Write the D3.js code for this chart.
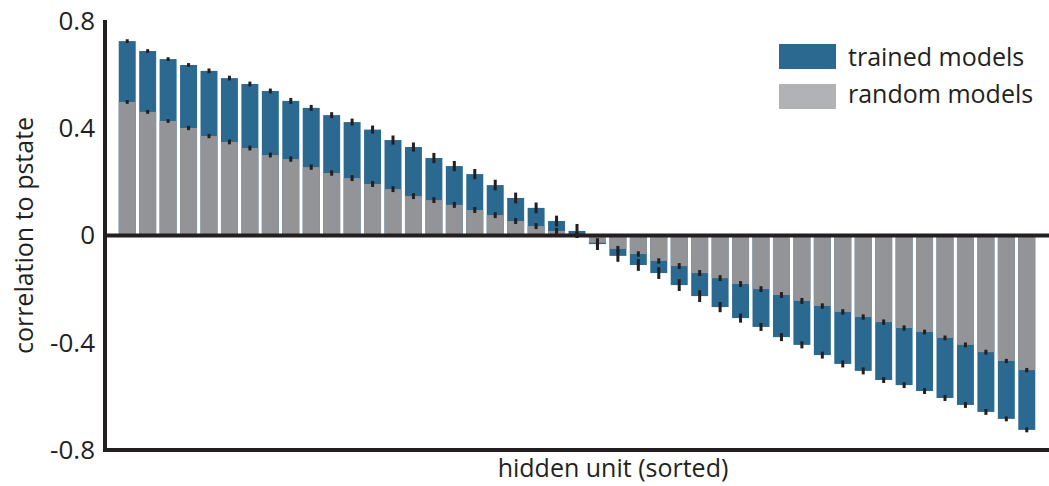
<!DOCTYPE html>
<html>
<head>
<meta charset="utf-8">
<script src="https://cdn.jsdelivr.net/npm/d3@7"></script>
<style>
  html, body { margin: 0; padding: 0; background: #fff; }
  svg { display: block; font-family: "Open Sans", "Noto Sans", sans-serif; }
</style>
</head>
<body>
<svg id="chart" width="1049" height="486"></svg>
<script>
// ---- data ----
const units = d3.range(1, 46).map(String);
const trained = [
  0.725, 0.688, 0.658, 0.636, 0.614, 0.587, 0.565, 0.539, 0.502, 0.476, 0.449, 0.423,
  0.395, 0.356, 0.330, 0.289, 0.259, 0.229, 0.188, 0.140, 0.103, 0.054, 0.017,
  -0.032, -0.076, -0.110, -0.140, -0.185, -0.226, -0.267, -0.308, -0.341, -0.379,
  -0.408, -0.446, -0.479, -0.505, -0.539, -0.558, -0.580, -0.606, -0.632, -0.658,
  -0.684, -0.725
];
const random = [
  0.498, 0.461, 0.427, 0.401, 0.371, 0.349, 0.326, 0.300, 0.285, 0.255, 0.233, 0.214,
  0.192, 0.173, 0.147, 0.132, 0.114, 0.095, 0.076, 0.054, 0.035, 0.017, 0.002,
  -0.027, -0.050, -0.069, -0.095, -0.114, -0.140, -0.159, -0.181, -0.200, -0.222,
  -0.244, -0.263, -0.285, -0.304, -0.323, -0.345, -0.360, -0.382, -0.408, -0.435,
  -0.468, -0.502
];
const trainedErr = [
  0.007, 0.007, 0.007, 0.007, 0.009, 0.009, 0.009, 0.009, 0.011, 0.011, 0.011, 0.013,
  0.015, 0.017, 0.017, 0.019, 0.019, 0.019, 0.020, 0.020, 0.020, 0.020, 0.026,
  0.022, 0.022, 0.022, 0.022, 0.022, 0.022, 0.019, 0.017, 0.015, 0.015,
  0.013, 0.013, 0.013, 0.013, 0.011, 0.011, 0.011, 0.011, 0.011, 0.011,
  0.009, 0.009
];
const randomErr = [
  0.007, 0.007, 0.007, 0.008, 0.008, 0.009, 0.009, 0.009, 0.010, 0.010, 0.010, 0.011,
  0.011, 0.011, 0.011, 0.011, 0.011, 0.011, 0.011, 0.011, 0.011, 0.011, 0.011,
  0.011, 0.011, 0.010, 0.010, 0.011, 0.011, 0.011, 0.011, 0.011, 0.011,
  0.011, 0.010, 0.010, 0.010, 0.010, 0.010, 0.009, 0.009, 0.009, 0.009,
  0.008, 0.008
];
const yTicks = [0.8, 0.4, 0, -0.4, -0.8];
const yTickLabels = ["0.8", "0.4", "0", "-0.4", "-0.8"];
const seriesNames = ["trained models", "random models"];

// ---- styles ----
const BLUE = "#2c6990";
const GRAY = "#939498";
const LEGEND_GRAY = "#b0b2b5";
const INK = "#231f20";

const svg = d3.select("#chart");

const x = d3.scaleBand().domain(units).range([117, 1037]).paddingInner(0.17).paddingOuter(0.085);
const y = d3.scaleLinear().domain([-0.8, 0.8]).range([450, 21]);

const rows = units.map((u, i) => ({
  u, t: trained[i], r: random[i], te: trainedErr[i], re: randomErr[i]
}));

// trained bars
svg.append("g").selectAll("rect").data(rows).join("rect")
  .attr("x", d => x(d.u))
  .attr("width", x.bandwidth())
  .attr("y", d => y(Math.max(0, d.t)))
  .attr("height", d => Math.abs(y(d.t) - y(0)))
  .attr("fill", BLUE);

// random bars
svg.append("g").selectAll("rect").data(rows).join("rect")
  .attr("x", d => x(d.u))
  .attr("width", x.bandwidth())
  .attr("y", d => y(Math.max(0, d.r)))
  .attr("height", d => Math.abs(y(d.r) - y(0)))
  .attr("fill", GRAY);

// error bars
const eb = svg.append("g").attr("fill", INK);
eb.selectAll("rect.t").data(rows).join("rect").attr("class", "t")
  .attr("x", d => x(d.u) + x.bandwidth() / 2 - 1.5)
  .attr("width", 3)
  .attr("y", d => y(d.t + d.te))
  .attr("height", d => y(d.t - d.te) - y(d.t + d.te));
eb.selectAll("rect.r").data(rows).join("rect").attr("class", "r")
  .attr("x", d => x(d.u) + x.bandwidth() / 2 - 1.5)
  .attr("width", 3)
  .attr("y", d => y(d.r + d.re))
  .attr("height", d => y(d.r - d.re) - y(d.r + d.re));

// axes
const axisX = 105;
const yAxis = d3.axisLeft(y).tickValues(yTicks)
  .tickFormat((d, i) => yTickLabels[i]).tickSize(0).tickPadding(10);
const gy = svg.append("g").attr("transform", `translate(${axisX},0)`).call(yAxis);
gy.select(".domain").remove();
gy.selectAll("text").attr("font-size", 26).attr("fill", INK)
  .attr("font-family", "'Open Sans', sans-serif");

svg.append("line").attr("x1", axisX).attr("x2", axisX)
  .attr("y1", y(0.8) - 1).attr("y2", y(-0.8) + 2)
  .attr("stroke", INK).attr("stroke-width", 4);
svg.append("line").attr("x1", axisX).attr("x2", 1049)
  .attr("y1", y(0)).attr("y2", y(0))
  .attr("stroke", INK).attr("stroke-width", 4);
svg.append("line").attr("x1", axisX - 2).attr("x2", 1049)
  .attr("y1", y(-0.8)).attr("y2", y(-0.8))
  .attr("stroke", INK).attr("stroke-width", 4);

// axis titles
svg.append("text")
  .attr("transform", `translate(33,${y(0)}) rotate(-90)`)
  .attr("text-anchor", "middle")
  .attr("font-size", 25).attr("fill", INK)
  .text("correlation to pstate");
svg.append("text")
  .attr("x", 613).attr("y", 477)
  .attr("text-anchor", "middle")
  .attr("font-size", 25).attr("fill", INK)
  .text("hidden unit (sorted)");

// legend
const legend = svg.append("g");
const legColors = [BLUE, LEGEND_GRAY];
seriesNames.forEach((name, i) => {
  legend.append("rect").attr("x", 779).attr("y", 44 + i * 40)
    .attr("width", 57).attr("height", 25).attr("fill", legColors[i]);
  legend.append("text").attr("x", 848).attr("y", 66 + i * 37)
    .attr("font-size", 25).attr("fill", INK).text(name);
});
</script>
</body>
</html>
